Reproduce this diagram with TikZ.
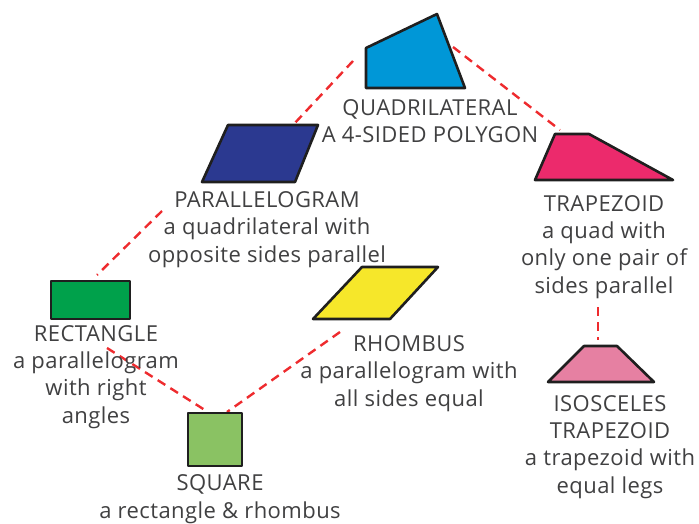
\documentclass[tikz,border=0pt]{standalone}
\usepackage{fontspec}
\setmainfont[LetterSpace=2]{Open Sans}
\usepackage{xcolor}

\definecolor{quadblue}{HTML}{0097D7}
\definecolor{parablue}{HTML}{2B3990}
\definecolor{trappink}{HTML}{EC2A6C}
\definecolor{rectgreen}{HTML}{00A14B}
\definecolor{sqgreen}{HTML}{8AC263}
\definecolor{rhombyellow}{HTML}{F6E72A}
\definecolor{isopink}{HTML}{E680A2}
\definecolor{linkred}{HTML}{EE2B2E}
\definecolor{textgray}{HTML}{404041}

\begin{document}
\begin{tikzpicture}[
    x=1pt,
    y=-1pt,
    line cap=butt,
    line join=round,
    quadshape/.style={draw=black!88, line width=2.6pt},
    conn/.style={draw=linkred, line width=2.4pt, dash pattern=on 9pt off 6pt},
    desc/.style={text=textgray, align=center, inner sep=0pt, anchor=base,
        font=\fontsize{22}{27.3}\selectfont}
]

\useasboundingbox (0,0) rectangle (699,524);

% Connector ends
\coordinate (q1) at (353,61);
\coordinate (p1) at (293,125);
\coordinate (q2) at (453,47);
\coordinate (t1) at (560,130);
\coordinate (p2) at (162,211);
\coordinate (r1) at (97,275);
\coordinate (r2) at (107,348);
\coordinate (s1) at (208,412);
\coordinate (h1) at (340,332);
\coordinate (s2) at (227,412);
\coordinate (t2) at (598,307);
\coordinate (i1) at (598,340);

% Dashed links
\draw[conn] (q1) -- (p1);
\draw[conn] (q2) -- (t1);
\draw[conn] (p2) -- (r1);
\draw[conn] (r2) -- (s1);
\draw[conn] (h1) -- (s2);
\draw[conn] (t2) -- (i1);

% Shapes
\draw[quadshape, fill=quadblue] (366,48) -- (437,14) -- (465,88) -- (366,88) -- cycle;
\draw[quadshape, fill=parablue] (228,125) -- (318,125) -- (295,182) -- (202,182) -- cycle;
\draw[quadshape, fill=trappink] (555,134) -- (589,134) -- (673,180) -- (535,180) -- cycle;
\draw[quadshape, fill=rectgreen] (51,281) rectangle (130,319);
\draw[quadshape, fill=sqgreen] (188,413) rectangle (242,466);
\draw[quadshape, fill=rhombyellow] (362,267) -- (438,267) -- (390,319) -- (313,319) -- cycle;
\draw[quadshape, fill=isopink] (584,346) -- (617,346) -- (654,382) -- (548,382) -- cycle;

% Labels (anchored at the last baseline)
\node[desc] (quadtxt) at (430,143) {QUADRILATERAL\\A 4-SIDED POLYGON};
\node[desc] (paratxt) at (267,262) {PARALLELOGRAM\\a quadrilateral with\\opposite sides parallel};
\node[desc] (traptxt) at (604,293) {TRAPEZOID\\a quad with\\only one pair of\\sides parallel};
\node[desc] (recttxt) at (96,423) {RECTANGLE\\a parallelogram\\with right\\angles};
\node[desc] (rhombtxt) at (409,406) {RHOMBUS\\a parallelogram with\\all sides equal};
\node[desc] (sqtxt) at (220,518) {SQUARE\\a rectangle \& rhombus};
\node[desc] (isotxt) at (610,493) {ISOSCELES\\TRAPEZOID\\a trapezoid with\\equal legs};

\end{tikzpicture}
\end{document}
